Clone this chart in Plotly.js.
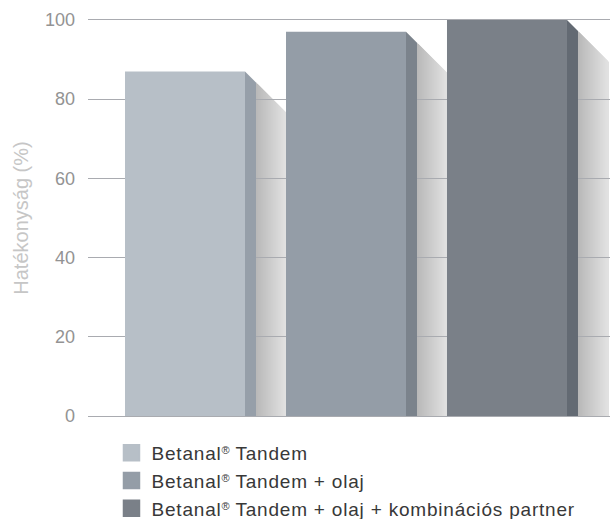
<!DOCTYPE html>
<html><head><meta charset="utf-8">
<script src="https://cdn.plot.ly/plotly-3.0.1.min.js"></script>
<style>html,body{margin:0;padding:0;background:#fff}#chart{width:610px;height:519px}</style>
</head><body><div id="chart"></div>
<script>
// ---- data ----
const categories = ['Betanal® Tandem', 'Betanal® Tandem + olaj', 'Betanal® Tandem + olaj + kombinációs partner'];
const regMark = '<span style="font-size:11px;baseline-shift:6px">®</span>';
const legendTexts = [['Betanal', ' Tandem'], ['Betanal', ' Tandem + olaj'], ['Betanal', ' Tandem + olaj + kombinációs partner']];
const legendLabels = legendTexts.map(p => '<span style="letter-spacing:0.8px">' + p[0] + '</span>' + regMark + '<span style="letter-spacing:0.8px">' + p[1] + '</span>');
const values = [87, 97, 100];
const yTicks = [0, 20, 40, 60, 80, 100];
const yTitle = 'Hatékonyság (%)';

// ---- styles ----
const frontColors = ['#b7bfc7', '#949da7', '#7a8088'];
const sideColors = ['#969fa9', '#7b838c', '#636a73'];

const W = 610, H = 519, M = {l: 88, r: 0, t: 16, b: 99};
const yRange = [-1, 101];
const xRange = [-0.6025, 2.6398];
const pxX = (W - M.l - M.r) / (xRange[1] - xRange[0]);
const pxY = (H - M.t - M.b) / (yRange[1] - yRange[0]);
const barW = 120 / pxX;
const sidePx = 11, shadowPx = 30, nStrips = 30;

const traces = [];
const shapes = [];
categories.forEach((c, i) => {
  traces.push({
    type: 'bar', x: [c], y: [values[i]], width: barW,
    marker: {color: frontColors[i], line: {width: 0}},
    showlegend: false, hoverinfo: 'skip'
  });
  traces.push({
    type: 'scatter', mode: 'markers', x: [null], y: [null],
    name: legendLabels[i], legendgroup: 'g',
    marker: {symbol: 'square', size: 16, color: frontColors[i], line: {width: 1.5, color: frontColors[i]}},
    showlegend: true, hoverinfo: 'skip'
  });
  const v = values[i];
  const xr = i + barW / 2;
  const xs = xr + sidePx / pxX;
  const vs = v - sidePx / pxY;
  // shadow strips (gradient), drawn below gridlines
  for (let k = 0; k < nStrips; k++) {
    const p0 = k * shadowPx / nStrips, p1 = (k + 1) * shadowPx / nStrips + 1;
    const x0 = xs + p0 / pxX, x1 = xs + p1 / pxX;
    const t0 = vs - p0 / pxY, t1 = vs - p1 / pxY;
    const t = (k + 0.5) / nStrips;
    const g = Math.round(184 + (226 - 184) * t);
    shapes.push({
      type: 'path', xref: 'x', yref: 'y', layer: 'below',
      path: `M${x0},0 L${x0},${t0} L${x1},${t1} L${x1},0 Z`,
      fillcolor: `rgb(${g},${g},${g})`, line: {width: 0}
    });
  }
  // side face
  shapes.push({
    type: 'path', xref: 'x', yref: 'y', layer: 'above',
    path: `M${xr},0 L${xr},${v} L${xs},${vs} L${xs},0 Z`,
    fillcolor: sideColors[i], line: {width: 0}
  });
});

const layout = {
  width: W, height: H,
  margin: M,
  paper_bgcolor: '#ffffff', plot_bgcolor: '#ffffff',
  barmode: 'overlay',
  font: {family: 'Liberation Sans, Arial, sans-serif'},
  xaxis: {type: 'category', range: xRange, showticklabels: false, showgrid: false, zeroline: false, showline: false, ticks: '', fixedrange: true},
  yaxis: {
    range: yRange, tickvals: yTicks, ticktext: yTicks.map(String),
    showgrid: true, gridcolor: '#a9abb0', gridwidth: 1,
    zeroline: false, showline: false, ticks: '', ticklabelstandoff: 12,
    tickfont: {size: 18, color: '#939393'},
    title: {text: yTitle, font: {size: 20, color: '#c6c6c6'}, standoff: 10}
  },
  showlegend: true,
  legend: {
    orientation: 'v', x: 0.045, xanchor: 'left', xref: 'paper',
    y: 0.164, yanchor: 'top', yref: 'container',
    font: {size: 19, color: '#383838'}, tracegroupgap: 0,
    bgcolor: 'rgba(0,0,0,0)', itemclick: false
  },
  shapes: shapes
};

Plotly.newPlot('chart', traces, layout, {displayModeBar: false, staticPlot: true});
</script>
</body></html>
